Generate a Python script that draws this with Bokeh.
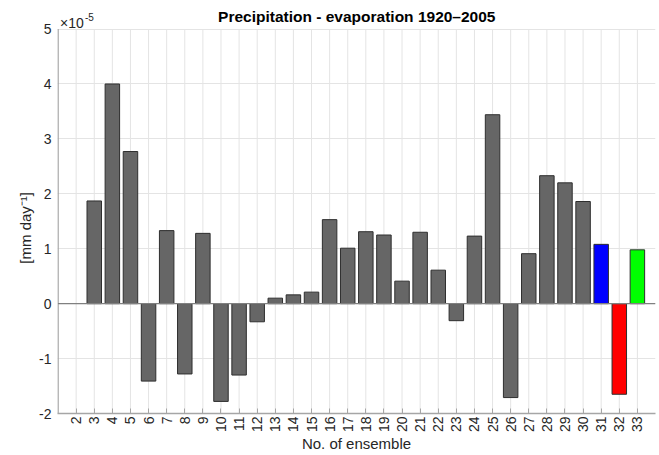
import math
from bokeh.plotting import figure
from bokeh.models import Range1d, FixedTicker, Label, ColumnDataSource
from bokeh.embed import file_html
from bokeh.resources import INLINE

# ---- data (values in units of 1e-5 mm day^-1) ----
ensembles = [3, 4, 5, 6, 7, 8, 9, 10, 11, 12, 13, 14, 15, 16, 17, 18,
             19, 20, 21, 22, 23, 24, 25, 26, 27, 28, 29, 30, 31, 32, 33]
values_e5 = [1.87, 4.00, 2.77, -1.41, 1.33, -1.28, 1.28, -1.78, -1.30, -0.33,
             0.10, 0.16, 0.21, 1.53, 1.01, 1.31, 1.25, 0.41, 1.30, 0.61,
             -0.31, 1.23, 3.44, -1.71, 0.91, 2.33, 2.20, 1.86, 1.08, -1.65, 0.98]
special_colors = {31: "#0000ff", 32: "#ff0000", 33: "#00ff00"}
x_ticks = list(range(2, 34))
y_ticks = [-2, -1, 0, 1, 2, 3, 4, 5]
title_text = "Precipitation - evaporation 1920\u20132005"
y_label = "[mm day\u207b\u00b9]"
x_label = "No. of ensemble"

colors = [special_colors.get(e, "#666666") for e in ensembles]
src = ColumnDataSource(dict(x=ensembles, top=values_e5, color=colors))

FONT = "Liberation Sans"
AX_GRAY = "#a6a6a6"
GRID = "#e4e4e4"
TXT = "#262626"
Y_LO, Y_HI = -2, 5
Y_TOP = 5.52   # frame extends above the axes box to hold title / exponent
X_LO, X_HI = 0.97, 34

p = figure(width=659, height=455, output_backend="svg", toolbar_location=None,
           x_range=Range1d(X_LO, X_HI), y_range=Range1d(Y_LO, Y_TOP),
           min_border_left=57, min_border_right=4, min_border_top=0,
           min_border_bottom=0)
p.outline_line_color = None
p.background_fill_color = "white"
p.border_fill_color = "white"

# grid: horizontal via the grid, vertical drawn only inside the axes box
p.xgrid.grid_line_color = None
p.ygrid.ticker = FixedTicker(ticks=y_ticks)
p.ygrid.grid_line_color = GRID
p.segment(x0=x_ticks, y0=[Y_LO] * len(x_ticks), x1=x_ticks, y1=[Y_HI] * len(x_ticks),
          line_color=GRID, line_width=1, level="underlay")

# axes
for ax in (p.xaxis[0], p.yaxis[0]):
    ax.major_tick_line_color = AX_GRAY
    ax.major_tick_in = 5
    ax.major_tick_out = 0
    ax.minor_tick_line_color = None
    ax.major_label_text_font = FONT
    ax.major_label_text_font_size = "14px"
    ax.major_label_text_color = TXT
    ax.axis_label_text_font = FONT
    ax.axis_label_text_font_size = "15px"
    ax.axis_label_text_font_style = "normal"
    ax.axis_label_text_color = TXT

p.xaxis.axis_line_color = AX_GRAY
p.xaxis.axis_line_width = 1.5
p.xaxis.ticker = FixedTicker(ticks=x_ticks)
p.xaxis.major_label_orientation = math.pi / 2
p.xaxis.major_label_standoff = 3
p.xaxis.axis_label = x_label
p.xaxis.axis_label_standoff = 0

p.yaxis.axis_line_color = None
p.yaxis.major_tick_line_color = None
p.yaxis.ticker = FixedTicker(ticks=y_ticks)
p.yaxis.major_label_overrides = {t: str(t) for t in y_ticks}
p.yaxis.major_label_standoff = 6
# trailing no-break spaces keep the label centred on the axes box (-2..5)
p.yaxis.axis_label = y_label + "\u00a0" * 10
p.yaxis.axis_label_standoff = 2

# left axis line, only over the axes box
p.segment(x0=[1], y0=[Y_LO], x1=[1], y1=[Y_HI], line_color=AX_GRAY, line_width=1.5)

# bars
p.vbar(x="x", top="top", bottom=0, width=0.8, source=src,
       fill_color="color", line_color="#2e2e2e", line_width=1)

# baseline
p.segment(x0=[1], y0=[0], x1=[X_HI], y1=[0], line_color="#808080", line_width=1.3)

# title and exponent label
p.add_layout(Label(x=(1 + X_HI) / 2, y=Y_HI, y_offset=13, text=title_text,
                   text_font=FONT, text_font_size="15.5px", text_font_style="bold",
                   text_color="black", text_align="center",
                   text_baseline="alphabetic"))
p.add_layout(Label(x=1, y=Y_HI, x_offset=2, y_offset=6, text="\u00d710",
                   text_font=FONT, text_font_size="14px", text_color=TXT,
                   text_baseline="alphabetic", text_align="left"))
p.add_layout(Label(x=1, y=Y_HI, x_offset=27, y_offset=12, text="-5",
                   text_font=FONT, text_font_size="10px", text_color=TXT,
                   text_baseline="alphabetic", text_align="left"))

open("out.html", "w").write(file_html(p, INLINE))
